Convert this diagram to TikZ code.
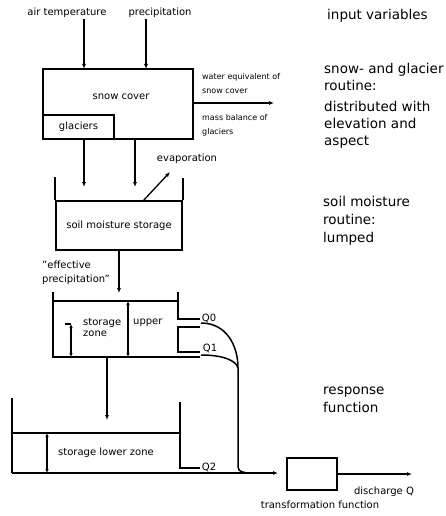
\documentclass[tikz,border=0pt]{standalone}
\usepackage{fontspec}
\setmainfont{DejaVu Sans}
\usepackage{tikz}
\usetikzlibrary{arrows.meta, positioning, calc}
\tikzset{
  tankline/.style={line width=1.5pt, line join=miter},
  boxnode/.style={rectangle, draw, line width=1.6pt, inner sep=0pt,
                  font=\fontsize{10}{12}\selectfont},
  lbl/.style={font=\fontsize{10}{13.5}\selectfont, inner sep=1pt},
  smalllbl/.style={font=\fontsize{8}{14}\selectfont, inner sep=0pt,
                   anchor=west, align=left},
  sidelbl/.style={font=\fontsize{13.5}{17}\selectfont, inner sep=0pt,
                  anchor=north west, align=left},
  arrow/.style={-{Latex[length=5pt,width=4pt]}, line width=1.3pt},
  dblarrow/.style={{Latex[length=4pt,width=3.5pt]}-{Latex[length=4pt,width=3.5pt]},
                   line width=1.2pt}
}

\begin{document}
\begin{tikzpicture}[x=1pt, y=-1pt]
  \useasboundingbox (0,0) rectangle (446,516);

  % ── Input variables ──
  \node[lbl] (airt) at (67,13) {air temperature};
  \node[lbl] (precip) at (160,13) {precipitation};

  % ── Snow and glacier routine ──
  \node[boxnode, minimum width=150pt, minimum height=70pt] (snow) at (118,104) {};
  \node[lbl] (snowtxt) at (121,97) {snow cover};
  \node[boxnode, minimum width=71pt, minimum height=24pt, anchor=south west]
      (glac) at (snow.south west) {glaciers};

  \coordinate (inA) at (84,69);
  \coordinate (inP) at (146,69);
  \coordinate (dropA) at (84,187);
  \coordinate (dropB) at (135,187);
  \coordinate (weq) at (274,103);

  \node[smalllbl] (weqtxt) at (202,84) {water equivalent of\\snow cover};
  \node[smalllbl] (masstxt) at (202,125) {mass balance of\\glaciers};

  % ── Soil moisture routine ──
  \node[boxnode, minimum width=126pt, minimum height=49pt] (soil) at (119,225.5)
      {soil moisture storage};
  \draw[tankline] (soil.north west) -- ++(0,-23);
  \draw[tankline] (soil.north east) -- ++(0,-22);

  \coordinate (evapS) at (143,201);
  \coordinate (evapE) at (170,172);
  \node[lbl] (evap) at (187,159) {evaporation};

  \node[lbl, anchor=north west, align=left] (effp) at (41,260)
      {"effective\\precipitation"};
  \coordinate (upIn) at (119,293);

  % ── Upper zone ──
  \coordinate (upTL) at (53,292);
  \coordinate (upBL) at (53,357);
  \coordinate (upTR) at (178,292);
  \draw[tankline] (upTL) -- (upBL) -- (200,357);
  \draw[tankline] (53,301) -- (178,301);
  \draw[tankline] (upTR) -- (178,319) -- (200,319);
  \draw[tankline] (200,327) -- (178,327) -- (178,352) -- (200,352);
  \draw[tankline] (65,324) -- (71,324);
  \draw[dblarrow] (71,324) -- (71,357);
  \draw[dblarrow] (128,301) -- (128,357);
  \node[lbl, anchor=west] (upst) at (82,323) {storage};
  \node[lbl, anchor=west] (upzn) at (82,334) {zone};
  \node[lbl, anchor=west] (upup) at (132,323) {upper};

  \node[lbl] (q0) at (209,318) {Q0};
  \node[lbl] (q1) at (210,348) {Q1};

  \coordinate (q0out) at (201,323);
  \coordinate (q1out) at (201,355);
  \coordinate (qjoin) at (238,368);
  \coordinate (qbend) at (238,462);
  \coordinate (perc) at (107,420);

  % ── Lower zone ──
  \coordinate (lowTL) at (12,398);
  \coordinate (lowBL) at (12,473);
  \coordinate (lowTR) at (180,402);
  \draw[tankline] (lowTL) -- (lowBL);
  \draw[tankline] (12,433) -- (180,433);
  \draw[tankline] (lowTR) -- (180,468) -- (200,468);
  \draw[dblarrow] (47,433) -- (47,473);
  \node[lbl] (lowtxt) at (106,453) {storage lower zone};
  \node[lbl] (q2) at (209,467) {Q2};

  % ── Transformation function ──
  \node[boxnode, minimum width=50pt, minimum height=32pt] (trans) at (312,474) {};
  \coordinate (transIn) at (278,473);
  \coordinate (dischQ) at (412,474);
  \node[lbl] (dischtxt) at (384,492) {discharge Q};
  \node[lbl] (transtxt) at (320,505) {transformation function};

  % ── Side labels ──
  \node[sidelbl] (sideIn) at (327,9) {input variables};
  \node[sidelbl] (sideSnow) at (324,63.5)
      {snow- and glacier\\routine:\\[4pt]distributed with\\elevation and\\aspect};
  \node[sidelbl] (sideSoil) at (323,196.5)
      {soil moisture\\[1pt]routine:\\[1pt]lumped};
  \node[sidelbl] (sideResp) at (323,386.5) {response\\[1pt]function};

  % ── ARROWS ──
  \draw[arrow] (airt.south -| inA) -- (inA);
  \draw[arrow] (precip.south -| inP) -- (inP);
  \draw[arrow] (snow.south -| dropA) -- (dropA);
  \draw[arrow] (snow.south -| dropB) -- (dropB);
  \draw[arrow] (snow.east |- weq) -- (weq);
  \draw[arrow] (evapS) -- (evapE);
  \draw[arrow] (soil.south) -- (upIn);
  \draw[arrow] (upBL -| perc) -- (perc);
  \draw[tankline] (q0out) .. controls (226,323) and (238,345) .. (qjoin);
  \draw[tankline] (q1out) .. controls (222,355) and (236,360) .. (qjoin);
  \draw[tankline] (qjoin) -- (qbend) .. controls (238,471) .. (247,473);
  \draw[arrow] (lowBL) -- (transIn);
  \draw[arrow] (trans.east) -- (dischQ);

\end{tikzpicture}
\end{document}
